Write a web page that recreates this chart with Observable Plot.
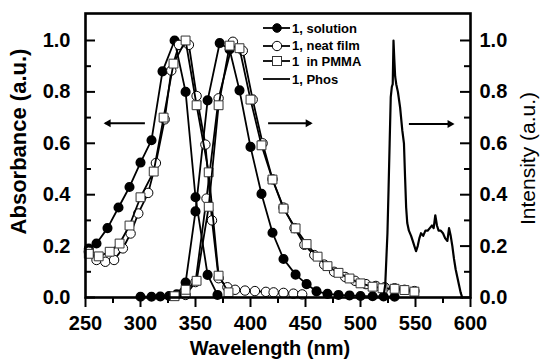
<!DOCTYPE html>
<html><head><meta charset="utf-8">
<script src="https://cdn.jsdelivr.net/npm/d3@7"></script>
<script src="https://cdn.jsdelivr.net/npm/@observablehq/plot@0.6"></script>
<style>
body{margin:0;background:#fff;}
#wrap{position:relative;width:542px;height:363px;overflow:hidden;}
.lg{position:absolute;left:262px;height:14px;display:flex;align-items:center;font:bold 13px "Liberation Sans",Arial,sans-serif;color:#000;white-space:pre;}
.lg svg{display:block;margin-right:1px;}
</style></head><body><div id="wrap"></div>
<script>
// ---- data ----
const xMajor = [250, 300, 350, 400, 450, 500, 550, 600];
const xMinor = [275, 325, 375, 425, 475, 525, 575];
const yMajor = [0, 0.2, 0.4, 0.6, 0.8, 1.0];
const yMinor = [0.1, 0.3, 0.5, 0.7, 0.9];

const seriesNames = ["1, solution", "1, neat film", "1  in PMMA", "1, Phos"];

const solAbsX = [253, 260, 270, 280, 290, 300, 310, 320, 331, 341, 350, 361, 370];
const solAbsY = [0.19, 0.21, 0.27, 0.35, 0.43, 0.525, 0.612, 0.88, 1.0, 0.80, 0.39, 0.088, 0.01];
const solEmX = [300, 310, 318, 326, 333, 341, 350, 361, 372, 381, 390, 400, 410, 420, 430, 441, 451, 460, 470, 480, 490, 500, 511, 521, 531];
const solEmY = [0.003, 0.003, 0.004, 0.006, 0.012, 0.058, 0.335, 0.767, 0.99, 0.965, 0.806, 0.586, 0.403, 0.252, 0.15, 0.089, 0.052, 0.024, 0.014, 0.01, 0.008, 0.006, 0.005, 0.004, 0.003];

const filmAbsX = [253, 260, 268, 276, 284, 291, 298, 307, 314, 322, 328, 335, 344, 351, 359, 365, 371, 379, 386, 395, 404, 414, 421, 430, 439, 447];
const filmAbsY = [0.178, 0.146, 0.139, 0.146, 0.191, 0.249, 0.327, 0.407, 0.523, 0.693, 0.883, 0.983, 0.983, 0.784, 0.595, 0.30, 0.075, 0.04, 0.03, 0.027, 0.025, 0.022, 0.02, 0.018, 0.015, 0.012];
const filmEmX = [341, 350, 360, 371, 384, 393, 402, 411, 420, 430, 440, 449, 458, 467, 476, 486, 495, 505, 514, 522, 531, 540, 549];
const filmEmY = [0.01, 0.06, 0.385, 0.775, 0.995, 0.96, 0.77, 0.6, 0.46, 0.35, 0.27, 0.205, 0.165, 0.128, 0.1, 0.08, 0.065, 0.052, 0.045, 0.04, 0.036, 0.03, 0.025];

const pmmaAbsX = [253, 262, 272, 281, 290, 300, 312, 321, 330, 341, 351, 362, 371, 380];
const pmmaAbsY = [0.17, 0.16, 0.178, 0.21, 0.28, 0.39, 0.49, 0.70, 0.91, 1.0, 0.748, 0.487, 0.085, 0.02];
const pmmaEmX = [331, 341, 351, 362, 371, 381, 390, 400, 410, 420, 430, 441, 451, 461, 470, 480, 490, 500, 511, 520, 531, 540, 549];
const pmmaEmY = [0.005, 0.03, 0.065, 0.353, 0.748, 0.98, 0.97, 0.77, 0.592, 0.459, 0.346, 0.269, 0.208, 0.159, 0.122, 0.096, 0.074, 0.055, 0.042, 0.036, 0.034, 0.029, 0.023];

const phosX = [519, 521, 522.5, 523.5, 524.5, 525.5, 526.5, 527.5, 528.5, 529.3, 530, 530.7, 531.5, 532.5, 534, 536, 538, 539.5, 540.5, 541.5, 542.5, 544, 546, 547.5, 549, 550.5, 552, 553.5, 555, 557, 559, 561, 563, 565, 566.5, 568, 569.5, 571, 573, 575, 577, 579, 580.5, 582, 583.5, 585, 586.5, 588, 589.5, 591, 592.5];
const phosY = [0, 0.005, 0.05, 0.15, 0.25, 0.42, 0.6, 0.78, 0.82, 0.83, 1.0, 0.93, 0.86, 0.83, 0.8, 0.74, 0.65, 0.6, 0.47, 0.35, 0.29, 0.26, 0.24, 0.22, 0.2, 0.18, 0.2, 0.23, 0.25, 0.24, 0.26, 0.26, 0.27, 0.28, 0.27, 0.32, 0.28, 0.26, 0.26, 0.25, 0.23, 0.22, 0.27, 0.24, 0.2, 0.15, 0.11, 0.08, 0.05, 0.02, 0];

// arrows: tail x1 -> tip x2 (nm), at level y
const arrowX1 = [304, 416, 544];
const arrowX2 = [268, 455, 584];
const arrowY = [0.678, 0.678, 0.675];

// ---- build ----
const W = 542, H = 363, mL = 85, mR = 72, mT = 13, mB = 66;
const innerW = W - mL - mR, innerH = H - mT - mB;
const rows = (xs, ys) => xs.map((x, i) => ({x, y: ys[i]}));
const arrows = arrowX1.map((x1, i) => ({x1, x2: arrowX2[i], y: arrowY[i]}));
const arrowsRight = arrows.filter(a => a.x2 > a.x1);
const arrowsLeft = arrows.filter(a => a.x2 < a.x1);

const lineOpt = {x: "x", y: "y", stroke: "#000", strokeWidth: 1.8};
const filled = {x: "x", y: "y", r: 4.3, fill: "#000", stroke: "#000"};
const open = {x: "x", y: "y", r: 4.7, fill: "#fff", stroke: "#000", strokeWidth: 1};
const square = {x: "x", y: "y", r: 5, symbol: "square", fill: "#fff", stroke: "#333", strokeWidth: 1};

const font = "'Liberation Sans', Arial, sans-serif";

const chart = Plot.plot({
  width: W, height: H,
  marginLeft: mL, marginRight: mR, marginTop: mT, marginBottom: mB,
  x: {domain: [250, 600]},
  y: {domain: [0, 1.105]},
  style: {fontFamily: font, fontSize: "20px", fontWeight: "bold", color: "#000", background: "#fff"},
  marks: [
    // solution
    Plot.line(rows(solAbsX, solAbsY), lineOpt),
    Plot.dot(rows(solAbsX, solAbsY), filled),
    Plot.line(rows(solEmX, solEmY), lineOpt),
    Plot.dot(rows(solEmX, solEmY), filled),
    // film
    Plot.line(rows(filmAbsX, filmAbsY), lineOpt),
    Plot.dot(rows(filmAbsX, filmAbsY), open),
    Plot.line(rows(filmEmX, filmEmY), lineOpt),
    Plot.dot(rows(filmEmX, filmEmY), open),
    // PMMA
    Plot.line(rows(pmmaAbsX, pmmaAbsY), lineOpt),
    Plot.dot(rows(pmmaAbsX, pmmaAbsY), square),
    Plot.line(rows(pmmaEmX, pmmaEmY), lineOpt),
    Plot.dot(rows(pmmaEmX, pmmaEmY), square),
    // phosphorescence
    Plot.line(rows(phosX, phosY), {x: "x", y: "y", stroke: "#000", strokeWidth: 2.2}),
    // arrows (shaft + filled head)
    Plot.link(arrows, {x1: "x1", x2: "x2", y1: "y", y2: "y", stroke: "#000", strokeWidth: 1.8}),
    Plot.dot(arrowsRight, {x: "x2", y: "y", symbol: "triangle", rotate: 90, r: 3, dx: -3, fill: "#000"}),
    Plot.dot(arrowsLeft, {x: "x2", y: "y", symbol: "triangle", rotate: -90, r: 3, dx: 3, fill: "#000"}),
    // ticks
    Plot.tickY(yMajor, {y: d => d, insetRight: innerW - 10, strokeWidth: 2}),
    Plot.tickY(yMinor, {y: d => d, insetRight: innerW - 6, strokeWidth: 2}),
    Plot.tickY(yMajor, {y: d => d, insetLeft: innerW - 10, strokeWidth: 2}),
    Plot.tickY(yMinor, {y: d => d, insetLeft: innerW - 6, strokeWidth: 2}),
    Plot.tickX(xMajor, {x: d => d, insetTop: innerH, insetBottom: -10, strokeWidth: 2}),
    Plot.tickX(xMinor, {x: d => d, insetTop: innerH, insetBottom: -6, strokeWidth: 2}),
    // tick labels
    Plot.axisY(yMajor, {anchor: "left", tickSize: 0, tickPadding: 15, tickFormat: d3.format(".1f"), label: null}),
    Plot.axisY(yMajor, {anchor: "right", tickSize: 0, tickPadding: 9, tickFormat: d3.format(".1f"), label: null}),
    Plot.axisX(xMajor, {anchor: "bottom", tickSize: 0, tickPadding: 18, tickFormat: d => d, label: null}),
    // axis titles
    Plot.text(["Absorbance (a.u.)"], {frameAnchor: "left", textAnchor: "middle", dx: -67, dy: -14, rotate: -90, fontSize: 22, fontWeight: "bold"}),
    Plot.text(["Intensity (a.u.)"], {frameAnchor: "right", textAnchor: "middle", dx: 58, dy: 3, rotate: -90, fontSize: 21, fontWeight: "normal"}),
    Plot.text(["Wavelength (nm)"], {frameAnchor: "bottom", textAnchor: "middle", dx: -8, dy: 57, fontSize: 20, fontWeight: "bold"}),
    Plot.frame({stroke: "#000", strokeWidth: 2.6})
  ]
});

const wrap = document.getElementById("wrap");
wrap.appendChild(chart);

// legend overlay
const legendTop = [21, 38.5, 54, 72];
const kinds = ["filled", "open", "square", "none"];
seriesNames.forEach((name, i) => {
  const row = document.createElement("div");
  row.className = "lg";
  row.style.top = legendTop[i] + "px";
  const ns = "http://www.w3.org/2000/svg";
  const s = document.createElementNS(ns, "svg");
  s.setAttribute("width", 29); s.setAttribute("height", 14);
  const ln = document.createElementNS(ns, "line");
  ln.setAttribute("x1", 1); ln.setAttribute("x2", 28); ln.setAttribute("y1", 7); ln.setAttribute("y2", 7);
  ln.setAttribute("stroke", "#000"); ln.setAttribute("stroke-width", 1.8);
  s.appendChild(ln);
  if (kinds[i] === "filled" || kinds[i] === "open") {
    const c = document.createElementNS(ns, "circle");
    c.setAttribute("cx", 15); c.setAttribute("cy", 7); c.setAttribute("r", kinds[i] === "filled" ? 4.3 : 4.7);
    c.setAttribute("fill", kinds[i] === "filled" ? "#000" : "#fff"); c.setAttribute("stroke", "#000");
    s.appendChild(c);
  } else if (kinds[i] === "square") {
    const r = document.createElementNS(ns, "rect");
    r.setAttribute("x", 10.5); r.setAttribute("y", 2.5); r.setAttribute("width", 9); r.setAttribute("height", 9);
    r.setAttribute("fill", "#fff"); r.setAttribute("stroke", "#333");
    s.appendChild(r);
  }
  row.appendChild(s);
  const t = document.createElement("span");
  t.textContent = name;
  row.appendChild(t);
  wrap.appendChild(row);
});
</script></body></html>
